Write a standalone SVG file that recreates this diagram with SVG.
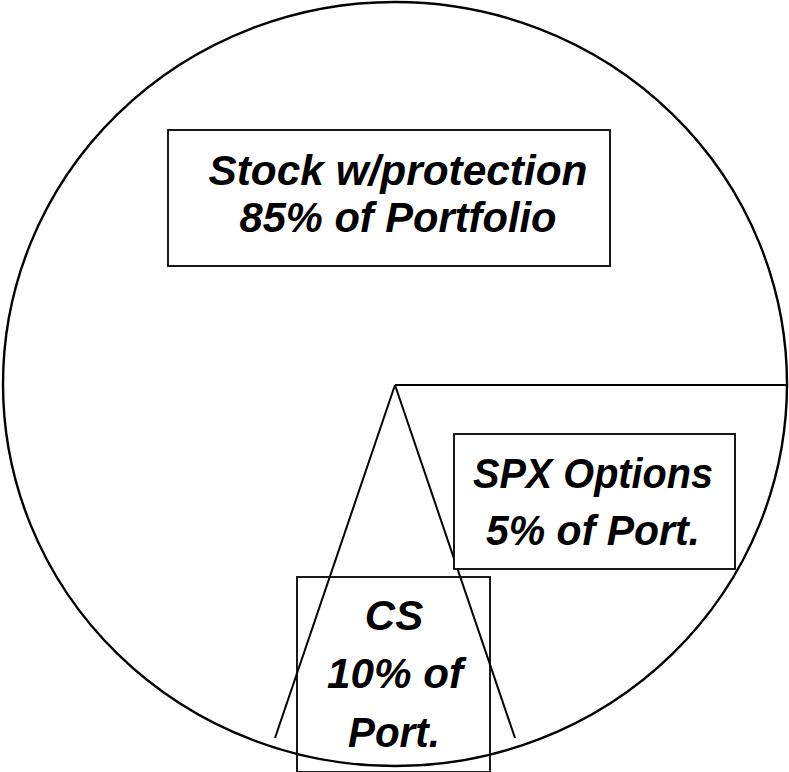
<svg xmlns="http://www.w3.org/2000/svg" width="789" height="772" viewBox="0 0 789 772">
<style>
.shape{fill:none;stroke:#000;stroke-width:2.4}
.line{fill:none;stroke:#000;stroke-width:2}
.box{fill:#fff;stroke:#000;stroke-width:1.8}
.boxc{fill:none;stroke:#000;stroke-width:1.8}
.lbl{font-family:"Liberation Sans",Arial,sans-serif;font-weight:bold;font-style:italic;font-size:42px;fill:#000;text-anchor:middle}
</style>
<rect width="789" height="772" fill="#fff"/>
<g id="pie">
<ellipse class="shape" cx="395" cy="384" rx="392" ry="382"/>
</g>
<g id="connectors">
<line class="line" x1="395" y1="385" x2="787" y2="385"/>
<line class="line" x1="395" y1="385" x2="275" y2="738"/>
<line class="line" x1="395" y1="385" x2="515" y2="738"/>
</g>
<g id="stock">
<rect class="box" x="168" y="130" width="442" height="136"/>
<text class="lbl" x="398" y="185" textLength="379" lengthAdjust="spacingAndGlyphs">Stock w/protection</text>
<text class="lbl" x="398" y="232" textLength="317" lengthAdjust="spacingAndGlyphs">85% of Portfolio</text>
</g>
<g id="spx">
<rect class="box" x="454" y="434" width="281" height="135"/>
<text class="lbl" x="593" y="488" textLength="240" lengthAdjust="spacingAndGlyphs">SPX Options</text>
<text class="lbl" x="593" y="545" textLength="214" lengthAdjust="spacingAndGlyphs">5% of Port.</text>
</g>
<g id="cs">
<rect class="boxc" x="297" y="577" width="193" height="195"/>
<text class="lbl" x="394" y="630">CS</text>
<text class="lbl" x="395" y="688" textLength="136" lengthAdjust="spacingAndGlyphs">10% of</text>
<text class="lbl" x="394" y="747" textLength="92" lengthAdjust="spacingAndGlyphs">Port.</text>
</g>
</svg>
